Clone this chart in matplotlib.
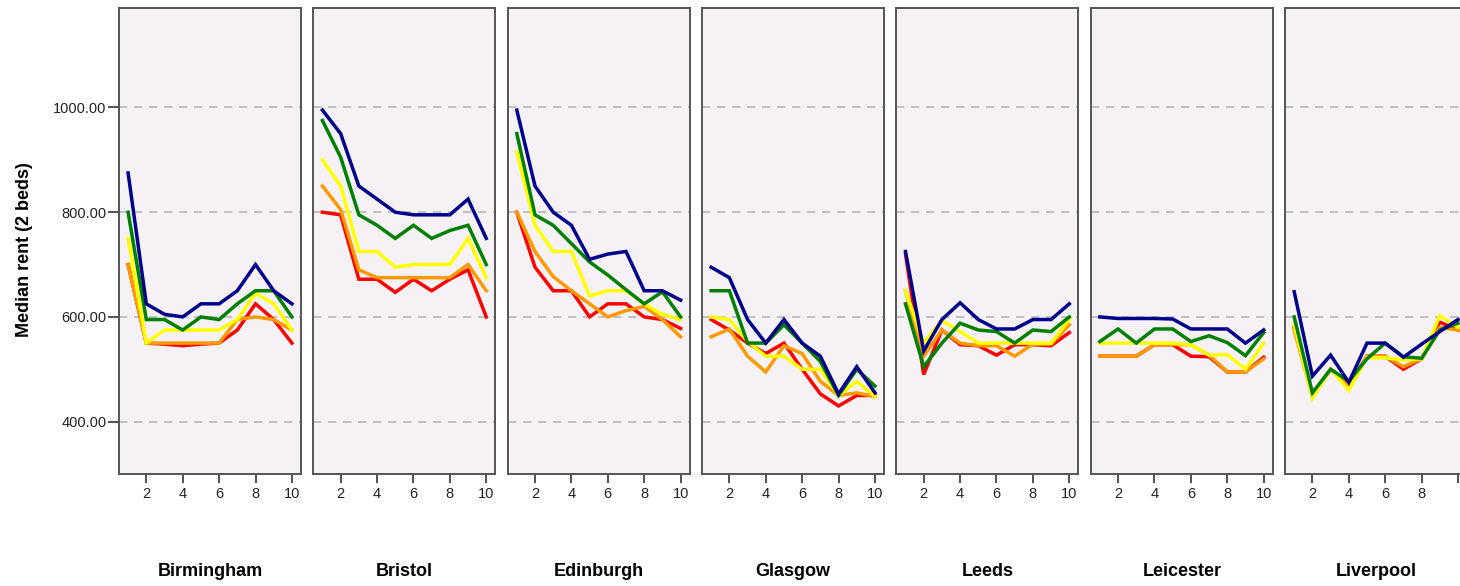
import matplotlib
matplotlib.use("Agg")
import matplotlib.pyplot as plt

cities = ["Birmingham", "Bristol", "Edinburgh", "Glasgow", "Leeds", "Leicester", "Liverpool"]
x_vals = [1, 2, 3, 4, 5, 6, 7, 8, 9, 10]
series_names = ["red", "orange", "yellow", "green", "navy"]
series_colors = ["#FF0000", "#FF9900", "#FFFF00", "#008000", "#00008B"]

birmingham = {
    "red":    [700, 550, 548, 545, 548, 550, 575, 625, 595, 550],
    "orange": [700, 550, 550, 550, 550, 550, 595, 600, 595, 575],
    "yellow": [750, 550, 575, 575, 575, 575, 595, 645, 625, 575],
    "green":  [800, 595, 595, 575, 600, 595, 625, 650, 650, 600],
    "navy":   [875, 625, 605, 600, 625, 625, 650, 700, 650, 625],
}
bristol = {
    "red":    [800, 795, 672, 672, 647, 672, 650, 672, 690, 600],
    "orange": [850, 805, 690, 675, 675, 675, 675, 675, 700, 650],
    "yellow": [900, 850, 725, 725, 695, 700, 700, 700, 750, 675],
    "green":  [975, 905, 795, 775, 750, 775, 750, 765, 775, 700],
    "navy":   [995, 950, 850, 825, 800, 795, 795, 795, 825, 750],
}
edinburgh = {
    "red":    [800, 695, 650, 650, 600, 625, 625, 600, 595, 578],
    "orange": [800, 725, 677, 650, 625, 600, 612, 620, 595, 562],
    "yellow": [915, 775, 725, 725, 640, 650, 650, 625, 605, 595],
    "green":  [950, 795, 775, 740, 705, 680, 652, 625, 648, 600],
    "navy":   [995, 850, 800, 775, 710, 720, 725, 650, 650, 632],
}
glasgow = {
    "red":    [595, 575, 550, 530, 550, 500, 453, 430, 450, 450],
    "orange": [562, 577, 525, 495, 545, 530, 477, 450, 455, 448],
    "yellow": [600, 595, 553, 525, 525, 500, 500, 450, 477, 448],
    "green":  [650, 650, 550, 550, 585, 550, 515, 450, 500, 468],
    "navy":   [695, 675, 595, 550, 595, 550, 525, 453, 505, 455],
}
leeds = {
    "red":    [720, 490, 575, 547, 545, 527, 547, 547, 545, 570],
    "orange": [650, 525, 575, 550, 545, 545, 525, 548, 548, 585],
    "yellow": [650, 550, 593, 572, 550, 550, 550, 550, 550, 595],
    "green":  [625, 505, 550, 588, 575, 572, 550, 575, 572, 600],
    "navy":   [725, 535, 595, 627, 595, 577, 577, 595, 595, 625],
}
leicester = {
    "red":    [525, 525, 525, 547, 547, 525, 524, 495, 495, 523],
    "orange": [525, 525, 525, 547, 547, 547, 527, 495, 495, 520],
    "yellow": [550, 550, 550, 550, 550, 547, 527, 528, 500, 550],
    "green":  [553, 577, 550, 577, 577, 553, 564, 551, 526, 570],
    "navy":   [600, 597, 597, 597, 596, 577, 577, 577, 550, 575],
}
liverpool = {
    "red":    [580, 450, 500, 470, 525, 525, 500, 520, 590, 575],
    "orange": [575, 448, 500, 467, 525, 525, 505, 520, 580, 575],
    "yellow": [585, 445, 500, 460, 522, 522, 518, 520, 602, 580],
    "green":  [600, 455, 500, 477, 520, 550, 524, 521, 575, 588],
    "navy":   [648, 487, 527, 475, 550, 550, 523, 548, 572, 595],
}
city_data = [birmingham, bristol, edinburgh, glasgow, leeds, leicester, liverpool]

y_ticks = [400, 600, 800, 1000]
x_ticks = [2, 4, 6, 8, 10]
y_label = "Median rent (2 beds)"

W, H = 1460, 586
fig = plt.figure(figsize=(W / 100, H / 100), dpi=100)
fig.patch.set_facecolor("white")

font = "Liberation Sans"
panel_w = 182
step = 194.35
top_px, bot_px = 8, 474

for i, (city, data) in enumerate(zip(cities, city_data)):
    left_px = 119 + i * step
    ax = fig.add_axes([left_px / W, (H - bot_px) / H, panel_w / W, (bot_px - top_px) / H])
    ax.set_facecolor("#F6F1F5")
    for yv in y_ticks:
        ax.axhline(yv, color="#B8B8B8", lw=1.2, ls=(0, (5, 4)), zorder=1)
    for name, col in zip(series_names, series_colors):
        ax.plot(x_vals, data[name], color=col, lw=2.5, solid_joinstyle="miter", zorder=3)
    ax.set_xlim(0.5, 10.5)
    ax.set_ylim(300, 1190)
    ax.set_xticks(x_ticks)
    labels = [str(t) for t in x_ticks]
    if i == len(cities) - 1:
        # the last panel runs past the image edge; its "10" falls outside
        labels[-1] = ""
    ax.set_xticklabels(labels, fontsize=10.5, family=font, color="#222222")
    ax.tick_params(axis="x", direction="out", length=6.5, width=1.2, color="#333333", pad=3)
    if i == 0:
        ax.set_yticks(y_ticks)
        ax.set_yticklabels([f"{t:.2f}" for t in y_ticks], fontsize=10.5, family=font, color="#222222")
        ax.tick_params(axis="y", direction="out", length=8, width=1.2, color="#333333", pad=1)
    else:
        ax.set_yticks([])
    for sp in ax.spines.values():
        sp.set_color("#555555")
        sp.set_linewidth(1.4)
    fig.text((left_px + panel_w / 2) / W, 1 - 572 / H, city, ha="center", va="center",
             fontsize=13, fontweight="bold", family=font, color="black")

fig.text(25 / W, 1 - 250 / H, y_label, rotation=90, ha="center", va="center",
         fontsize=13, fontweight="bold", family=font, color="black")

fig.savefig("out.png", dpi=100)
